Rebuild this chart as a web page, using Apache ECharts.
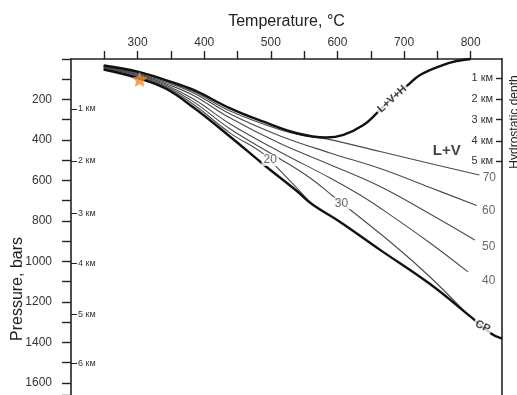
<!DOCTYPE html>
<html>
<head>
<meta charset="utf-8">
<script src="https://cdn.jsdelivr.net/npm/echarts@6/dist/echarts.min.js"></script>
<style>
  html, body { margin: 0; padding: 0; background: #fff; }
  #chart { width: 517px; height: 395px; }
</style>
</head>
<body>
<div id="chart"></div>
<script>
// [temperature °C, pressure bars]
const boundaryLVH = [[249, 32], [300, 62], [342, 104], [384, 153], [439, 244], [489, 310], [539, 367],
  [583, 388], [609, 375], [639, 326], [659, 268], [679, 203], [706, 128], [724, 79], [758, 30], [779, 10], [800, 0]];
const criticalCurve = [[249, 52], [300, 94], [342, 146], [384, 240], [439, 384], [489, 521], [539, 652],
  [562, 718], [604, 805], [664, 943], [739, 1112], [798, 1268], [831, 1357], [847, 1382]];
const iso20 = [[249, 49], [300, 89], [342, 140], [384, 225], [439, 366], [487, 464], [510, 538], [562, 718]];
const iso30 = [[249, 46], [300, 84], [342, 135], [384, 212], [439, 346], [514, 494], [559, 588], [593, 677],
  [683, 914], [739, 1077], [798, 1272]];
const iso40 = [[249, 43], [300, 80], [342, 128], [384, 198], [439, 321], [514, 459], [589, 588], [634, 672],
  [664, 736], [739, 909], [796, 1052]];
const iso50 = [[249, 40], [300, 76], [342, 122], [384, 180], [439, 292], [514, 418], [589, 522], [664, 630],
  [739, 766], [806, 894]];
const iso60 = [[249, 37], [300, 72], [342, 115], [384, 168], [439, 272], [514, 380], [589, 464], [664, 541],
  [739, 635], [809, 724]];
const iso70 = [[249, 35], [300, 68], [342, 109], [384, 161], [439, 257], [514, 350], [550, 378], [585, 396],
  [664, 457], [739, 516], [813, 573]];

// isopleth labels: name, temperature, pressure
const isoLabelNames = ['20', '30', '40', '50', '60', '70'];
const isoLabelAt = [[499, 499], [606, 713], [827, 1097], [827, 927], [827, 749], [828, 584]];
const fieldLabels = ['L+V', 'L+V+H', 'CP'];
const fieldLabelAt = [[764, 455], [682, 198], [818, 1322]];
const samplePoint = [303, 101];

const tempTickMarks = [250, 300, 350, 400, 450, 500, 550, 600, 650, 700, 750, 800];
const tempTicks = [300, 400, 500, 600, 700, 800];
const pressureTicks = [200, 400, 600, 800, 1000, 1200, 1400, 1600];
const leftDepthKm = [1, 2, 3, 4, 5, 6];
const leftDepthP = [247, 504, 762, 1009, 1261, 1503];
const rightDepthKm = [1, 2, 3, 4, 5];
const rightDepthP = [93, 198, 299, 404, 506];

const FONT = 'Liberation Sans, Arial, sans-serif';
const chart = echarts.init(document.getElementById('chart'));

function thin(data) {
  return { type: 'line', data: data, smooth: 0.4, showSymbol: false, silent: true,
    lineStyle: { color: '#4a4a4a', width: 1.1 }, z: 2 };
}
function thick(data) {
  return { type: 'line', data: data, smooth: 0.4, showSymbol: false, silent: true,
    lineStyle: { color: '#111', width: 2.4 }, z: 3 };
}

const yCommon = { type: 'value', min: 0, max: 1660, inverse: true, splitLine: { show: false } };

const option = {
  animation: false,
  backgroundColor: '#fff',
  grid: { left: 71, top: 59, width: 431, height: 336 },
  xAxis: {
    type: 'value', position: 'top', min: 200, max: 847,
    name: 'Temperature, °C', nameLocation: 'middle', nameGap: 29,
    nameTextStyle: { fontFamily: FONT, fontSize: 16, color: '#222' },
    axisLine: { lineStyle: { color: '#222', width: 1.6 } },
    axisTick: { length: 8, customValues: tempTickMarks, lineStyle: { color: '#222', width: 1.4 } },
    axisLabel: { margin: 10, fontFamily: FONT, fontSize: 12, color: '#333', customValues: tempTicks },
    splitLine: { show: false }
  },
  yAxis: [
    Object.assign({}, yCommon, {
      position: 'left', interval: 100,
      axisLine: { show: true, lineStyle: { color: '#222', width: 1.6 } },
      axisTick: { length: 9, lineStyle: { color: '#222', width: 1.4 } },
      axisLabel: { margin: 19, fontFamily: FONT, fontSize: 12, color: '#333',
        formatter: v => pressureTicks.includes(v) ? String(v) : '' }
    }),
    Object.assign({}, yCommon, {
      position: 'left', offset: 0,
      axisLine: { show: false },
      axisTick: { show: true, inside: true, length: 6, customValues: leftDepthP,
        lineStyle: { color: '#222', width: 1 } },
      axisLabel: { inside: true, margin: 7, fontFamily: FONT, fontSize: 9, color: '#333',
        customValues: leftDepthP,
        formatter: v => leftDepthKm[leftDepthP.indexOf(v)] + ' км' }
    }),
    Object.assign({}, yCommon, {
      position: 'right',
      axisLine: { show: true, lineStyle: { color: '#222', width: 1.6 } },
      axisTick: { show: true, inside: true, length: 6, customValues: rightDepthP,
        lineStyle: { color: '#222', width: 1.4 } },
      axisLabel: { inside: true, margin: 9, fontFamily: FONT, fontSize: 11, color: '#333',
        customValues: rightDepthP,
        formatter: v => rightDepthKm[rightDepthP.indexOf(v)] + ' км' }
    })
  ],
  graphic: [
    { type: 'text', x: 18, y: 289, rotation: Math.PI / 2,
      style: { text: 'Pressure, bars', font: '16px ' + FONT, fill: '#222',
        align: 'center', verticalAlign: 'middle', textAlign: 'center', textVerticalAlign: 'middle' } },
    { type: 'text', x: 515, y: 122, rotation: Math.PI / 2,
      style: { text: 'Hydrostatic depth', font: '12px ' + FONT, fill: '#222',
        align: 'center', verticalAlign: 'middle', textAlign: 'center', textVerticalAlign: 'middle' } }
  ],
  series: [
    thin(iso70), thin(iso60), thin(iso50), thin(iso40), thin(iso30), thin(iso20),
    thick(boundaryLVH), thick(criticalCurve),
    {
      type: 'scatter', symbolSize: 0, silent: true, z: 5,
      data: isoLabelNames.map((n, i) => ({ name: n, value: isoLabelAt[i] })),
      label: { show: true, position: 'inside', formatter: '{b}', fontFamily: FONT, fontSize: 12,
        color: '#444', backgroundColor: '#fff', padding: [0, 2] }
    },
    {
      type: 'scatter', symbolSize: 0, silent: true, z: 5,
      data: [
        { name: fieldLabels[0], value: fieldLabelAt[0],
          label: { fontSize: 15, backgroundColor: 'transparent' } },
        { name: fieldLabels[1], value: fieldLabelAt[1], label: { rotate: 42 } },
        { name: fieldLabels[2], value: fieldLabelAt[2], label: { rotate: -25 } }
      ],
      label: { show: true, position: 'inside', formatter: '{b}', fontFamily: FONT, fontSize: 11,
        fontWeight: 'bold', color: '#111', backgroundColor: '#fff', padding: [0, 2] }
    },
    {
      type: 'scatter', silent: true, z: 6,
      data: [samplePoint],
      symbol: 'path://M0,-10 L2.9,-4 9.5,-3.1 4.7,1.5 5.9,8.1 0,5 -5.9,8.1 -4.7,1.5 -9.5,-3.1 -2.9,-4 Z',
      symbolSize: 14,
      itemStyle: { color: '#f28a2e', borderColor: '#f5a25a', borderWidth: 0.5 }
    }
  ]
};

chart.setOption(option);
</script>
</body>
</html>
